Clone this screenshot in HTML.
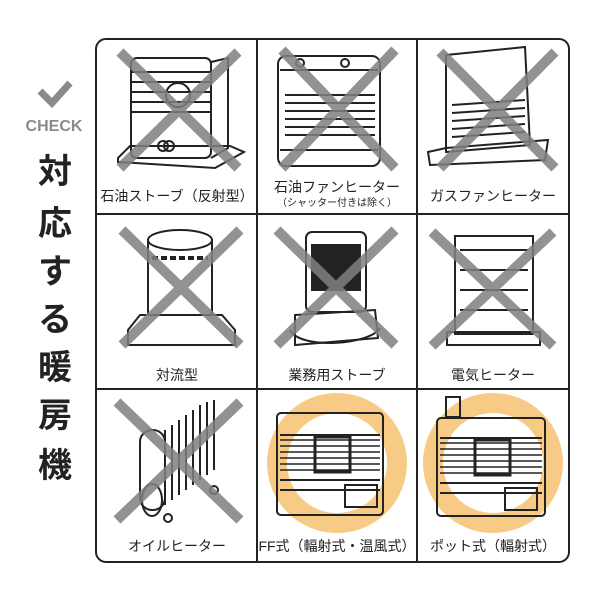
<!DOCTYPE html>
<html><head><meta charset="utf-8"><style>
html,body{margin:0;padding:0;background:#fff;}
svg{display:block;}
text{font-family:"Liberation Sans","Noto Sans CJK JP",sans-serif;}
</style></head><body>
<svg width="600" height="600" viewBox="0 0 600 600" xmlns="http://www.w3.org/2000/svg">
<rect width="600" height="600" fill="#fff"/>
<!-- left -->
<polyline points="40,91 52,103 70,83" fill="none" stroke="#8a8a8a" stroke-width="7"/>
<text x="54" y="131" font-size="16" font-weight="bold" fill="#8a8a8a" text-anchor="middle">CHECK</text>
<g font-size="34" font-weight="bold" fill="#222" text-anchor="middle" font-family="'Noto Sans CJK JP',sans-serif">
<text x="55" y="183">対</text><text x="55" y="235">応</text><text x="55" y="283">す</text>
<text x="55" y="331">る</text><text x="55" y="379">暖</text><text x="55" y="427">房</text><text x="55" y="477">機</text>
</g>
<!-- orange circles -->
<circle cx="337" cy="463" r="60" fill="none" stroke="#f7cb85" stroke-width="20"/>
<circle cx="493" cy="463" r="60" fill="none" stroke="#f7cb85" stroke-width="20"/>
<!-- heaters (simplified) -->
<g fill="none" stroke="#222" stroke-width="2">
<path d="M118,158 L130,146 L230,146 L244,152 L215,168 L118,162 Z"/>
<rect x="131" y="58" width="80" height="100" rx="6"/>
<path d="M211,62 L228,58 L228,148 L211,158"/>
<path d="M131,72 L211,72 M131,82 L211,82 M131,92 L211,92 M131,102 L211,102 M131,112 L211,112"/>
<circle cx="178" cy="95" r="12"/>
<circle cx="163" cy="146" r="5"/><circle cx="169" cy="146" r="5"/>
<rect x="278" y="56" width="102" height="110" rx="8"/>
<path d="M280,70 L378,70 M285,95 L375,95 M285,103 L375,103 M285,111 L375,111 M285,119 L375,119 M285,127 L375,127 M285,135 L375,135 M280,150 L378,150"/>
<circle cx="300" cy="63" r="4"/><circle cx="345" cy="63" r="4"/>
<path d="M446,55 L525,47 L530,145 L446,152 Z"/>
<path d="M428,152 L446,148 L548,140 L545,160 L430,165 Z"/>
<path d="M452,105 L525,100 M452,113 L525,108 M452,121 L525,116 M452,129 L525,124 M452,137 L525,132"/>
<ellipse cx="180" cy="240" rx="32" ry="10"/>
<path d="M148,240 L148,315 M212,240 L212,315"/>
<path d="M152,258 L208,258" stroke-dasharray="6,3" stroke-width="4"/>
<path d="M128,330 L140,315 L222,315 L235,330 L235,345 L128,345 Z"/>
<rect x="306" y="232" width="60" height="80" rx="6"/>
<rect x="312" y="245" width="48" height="45" fill="#222"/>
<path d="M295,315 L375,310 L378,338 L295,345 Z"/>
<path d="M290,330 C300,350 370,345 380,328"/>
<rect x="455" y="236" width="78" height="98"/>
<path d="M460,250 L528,250 M460,270 L528,270 M460,290 L528,290 M460,310 L528,310"/>
<path d="M447,332 L540,332 L540,345 L447,345 Z"/>
<rect x="140" y="430" width="25" height="80" rx="12"/>
<path d="M165,430 L165,505 M172,425 L172,500 M179,420 L179,495 M186,415 L186,490 M193,410 L193,485 M200,405 L200,480 M207,402 L207,475 M214,400 L214,470"/>
<ellipse cx="152" cy="500" rx="10" ry="16"/>
<circle cx="168" cy="518" r="4"/><circle cx="214" cy="490" r="4"/>
<rect x="277" y="413" width="106" height="102" rx="4"/>
<path d="M280,435 L380,435 M280,480 L380,480 M280,490 L380,490"/>
<g stroke-width="1.5"><path d="M280,440 L380,440 M280,446 L380,446 M280,452 L380,452 M280,458 L380,458 M280,464 L380,464 M280,470 L380,470"/></g>
<rect x="315" y="437" width="35" height="35" stroke-width="3"/>
<rect x="345" y="485" width="32" height="22"/>
<rect x="446" y="397" width="14" height="20"/>
<rect x="437" y="418" width="108" height="98" rx="4"/>
<path d="M440,438 L542,438 M440,483 L542,483 M440,493 L542,493"/>
<g stroke-width="1.5"><path d="M440,443 L542,443 M440,449 L542,449 M440,455 L542,455 M440,461 L542,461 M440,467 L542,467 M440,473 L542,473"/></g>
<rect x="475" y="440" width="35" height="35" stroke-width="3"/>
<rect x="505" y="488" width="32" height="22"/>
</g>
<!-- X marks -->
<g stroke="#808080" stroke-width="10" opacity="0.85">
<path d="M120,52 L238,168 M238,52 L120,168"/>
<path d="M282,50 L395,168 M395,50 L282,168"/>
<path d="M440,52 L555,168 M555,52 L440,168"/>
<path d="M122,230 L240,345 M240,230 L122,345"/>
<path d="M277,230 L395,345 M395,230 L277,345"/>
<path d="M432,232 L553,346 M553,232 L432,346"/>
<path d="M117,402 L240,520 M240,402 L117,520"/>
</g>
<!-- grid -->
<rect x="96" y="39" width="473" height="523" rx="10" fill="none" stroke="#222" stroke-width="2"/>
<path d="M257,39 L257,562 M417,39 L417,562 M96,214 L569,214 M96,389 L569,389" stroke="#222" stroke-width="2"/>
<!-- labels -->
<g font-size="14" fill="#222" text-anchor="middle">
<text x="177" y="201">石油ストーブ（反射型）</text>
<text x="337" y="192">石油ファンヒーター</text>
<text x="337" y="206" font-size="10">（シャッター付きは除く）</text>
<text x="493" y="201">ガスファンヒーター</text>
<text x="177" y="380">対流型</text>
<text x="337" y="380">業務用ストーブ</text>
<text x="493" y="380">電気ヒーター</text>
<text x="177" y="551">オイルヒーター</text>
<text x="337" y="551">FF式（輻射式・温風式）</text>
<text x="493" y="551">ポット式（輻射式）</text>
</g>
</svg>
</body></html>
